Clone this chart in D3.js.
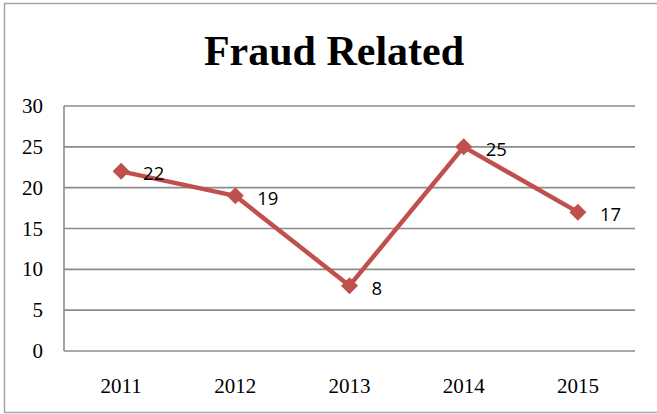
<!DOCTYPE html>
<html>
<head>
<meta charset="utf-8">
<script src="https://cdn.jsdelivr.net/npm/d3@7"></script>
<style>
  body { margin: 0; background: #fff; }
</style>
</head>
<body>
<svg id="chart"></svg>
<script>
var years = ["2011", "2012", "2013", "2014", "2015"];
var counts = [22, 19, 8, 25, 17];
var yTicks = [0, 5, 10, 15, 20, 25, 30];

var settings = { width: 657, height: 414 };
var plot = { left: 64, right: 635, top: 106, bottom: 351 };

var svg = d3.select("#chart")
    .attr("width", settings.width)
    .attr("height", settings.height);

// outer chart border
svg.append("rect")
    .attr("x", 4.5).attr("y", 3.5)
    .attr("width", 700).attr("height", 409)
    .attr("fill", "#fff")
    .attr("stroke", "#a6a6a6")
    .attr("stroke-width", 1.5);

svg.append("text")
    .attr("x", 334).attr("y", 65)
    .attr("text-anchor", "middle")
    .attr("font-family", "'Liberation Serif', serif")
    .attr("font-weight", "bold")
    .attr("font-size", 42)
    .text("Fraud Related");

var x = d3.scaleBand().domain(years).range([plot.left, plot.right]);
var y = d3.scaleLinear().domain([0, 30]).range([plot.bottom, plot.top]);

// gridlines
svg.selectAll(".grid")
    .data(yTicks)
    .join("line")
    .attr("class", "grid")
    .attr("x1", plot.left).attr("x2", plot.right)
    .attr("y1", d => y(d)).attr("y2", d => y(d))
    .attr("stroke", "#8c8c8c")
    .attr("stroke-width", 1.6);

svg.append("line")
    .attr("x1", plot.left).attr("x2", plot.left)
    .attr("y1", plot.top).attr("y2", plot.bottom)
    .attr("stroke", "#8c8c8c")
    .attr("stroke-width", 1.6);

// y tick labels
svg.selectAll(".ylab")
    .data(yTicks)
    .join("text")
    .attr("class", "ylab")
    .attr("x", 43)
    .attr("y", d => y(d) + 7)
    .attr("text-anchor", "end")
    .attr("font-family", "'Liberation Serif', serif")
    .attr("font-size", 21)
    .text(d => d);

// x labels
svg.selectAll(".xlab")
    .data(years)
    .join("text")
    .attr("class", "xlab")
    .attr("x", d => x(d) + x.bandwidth() / 2)
    .attr("y", 393)
    .attr("text-anchor", "middle")
    .attr("font-family", "'Liberation Serif', serif")
    .attr("font-size", 21)
    .text(d => d);

var pts = years.map((yr, i) => ({ x: x(yr) + x.bandwidth() / 2, y: y(counts[i]), v: counts[i] }));

svg.append("path")
    .datum(pts)
    .attr("fill", "none")
    .attr("stroke", "#c0504d")
    .attr("stroke-width", 4.5)
    .attr("stroke-linejoin", "round")
    .attr("d", d3.line().x(d => d.x).y(d => d.y));

svg.selectAll(".mark")
    .data(pts)
    .join("path")
    .attr("class", "mark")
    .attr("transform", d => `translate(${d.x},${d.y})`)
    .attr("d", "M0,-8.5L8.5,0L0,8.5L-8.5,0Z")
    .attr("fill", "#c0504d");

svg.selectAll(".dlab")
    .data(pts)
    .join("text")
    .attr("class", "dlab")
    .attr("x", d => d.x + 22)
    .attr("y", d => d.y + 9)
    .attr("font-family", "'Open Sans', sans-serif")
    .attr("font-size", 18.5)
    .attr("fill", "#000")
    .text(d => d.v);
</script>
</body>
</html>
